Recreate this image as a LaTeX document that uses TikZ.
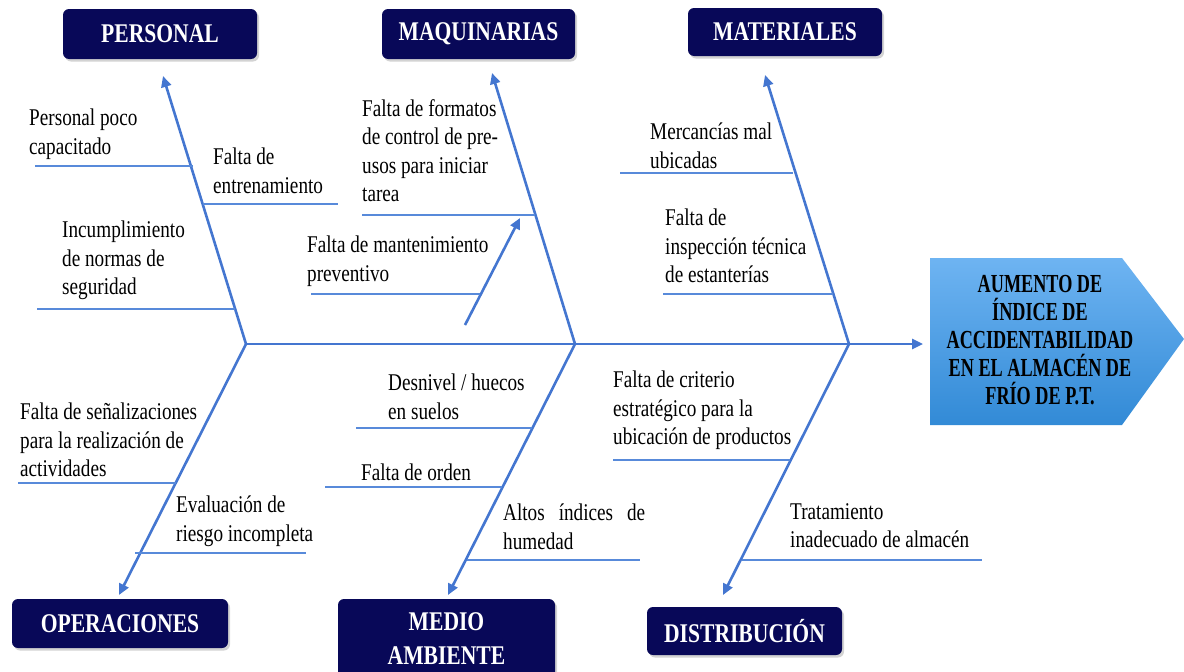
\documentclass[tikz,border=0pt]{standalone}
\usepackage{fontspec}
\setmainfont{Liberation Serif}[FakeStretch=0.8]
\newfontfamily\efffont{Liberation Serif}[FakeStretch=0.7]
\usetikzlibrary{arrows.meta,shadows}
\definecolor{navy}{RGB}{8,8,88}
\definecolor{bone}{RGB}{68,118,208}
\definecolor{subl}{RGB}{88,138,218}
\definecolor{efftop}{RGB}{110,180,242}
\definecolor{effbot}{RGB}{50,138,214}
\tikzset{
  hdr/.style={rounded corners=6pt, fill=navy, text=white, inner sep=0pt,
    font=\fontsize{27}{34}\selectfont\bfseries, align=center,
    drop shadow={shadow xshift=2pt, shadow yshift=-2.5pt, opacity=0.35}},
  bonel/.style={draw=bone, line width=2.6pt, -{Triangle[length=11pt,width=10pt]}},
  subline/.style={draw=subl, line width=1.3pt},
  txt/.style={anchor=north west, inner sep=0pt, align=left,
    font=\fontsize{24}{28.5}\selectfont},
}
\begin{document}
\begin{tikzpicture}[x=1pt,y=-1pt]
\useasboundingbox (0,0) rectangle (1184,672);
% header boxes
\node[hdr, minimum width=194pt, minimum height=50pt] (personal) at (160,34) {PERSONAL};
\node[hdr, minimum width=193pt, minimum height=50pt] (maq) at (478.5,34) {MAQUINARIAS};
\node[hdr, minimum width=194pt, minimum height=48pt] (mat) at (785,32) {MATERIALES};
\node[hdr, minimum width=216pt, minimum height=49pt] (oper) at (120,623.5) {OPERACIONES};
\node[hdr, minimum width=217pt, minimum height=80pt] (medio) at (446.5,639) {MEDIO\\AMBIENTE};
\node[hdr, minimum width=195pt, minimum height=48pt] (dist) at (744.5,631) {DISTRIBUCIÓN};
% effect
\path[top color=efftop, bottom color=effbot, draw=none]
  (930,258) -- (1122,258) -- (1184,339) -- (1122,425) -- (930,425) -- cycle;
\node[inner sep=0pt, align=center, font=\efffont\fontsize{26}{28}\selectfont\bfseries] (effect) at (1040,340)
  {AUMENTO DE\\ÍNDICE DE\\ACCIDENTABILIDAD\\EN EL ALMACÉN DE\\FRÍO DE P.T.};
% skeleton coordinates
\coordinate (J1) at (246,344);
\coordinate (J2) at (575,344);
\coordinate (J3) at (849,344);
\coordinate (E) at (923,344);
\coordinate (T1) at (163,76);
\coordinate (T2) at (492,73);
\coordinate (T3) at (765,75);
\coordinate (B1) at (119,595);
\coordinate (B2) at (448,595);
\coordinate (B3) at (723,595);
\coordinate (S0) at (465,325);
\coordinate (S1) at (520,218);
% spine and bones
\draw[bonel] (J1) -- (E);
\draw[bonel] (J1) -- (T1);
\draw[bonel] (J2) -- (T2);
\draw[bonel] (J3) -- (T3);
\draw[bonel] (J1) -- (B1);
\draw[bonel] (J2) -- (B2);
\draw[bonel] (J3) -- (B3);
\draw[bonel] (S0) -- (S1);
% sub lines
\draw[subline] (35,166) -- (193,166);
\draw[subline] (203,204) -- (338,204);
\draw[subline] (37,309) -- (235,309);
\draw[subline] (362,215) -- (535,215);
\draw[subline] (311,294) -- (480,294);
\draw[subline] (620,173) -- (793,173);
\draw[subline] (663,294) -- (833,294);
\draw[subline] (18,483) -- (176,483);
\draw[subline] (135,553) -- (306,553);
\draw[subline] (356,428) -- (532,428);
\draw[subline] (325,487) -- (502,487);
\draw[subline] (467,560) -- (640,560);
\draw[subline] (613,460) -- (790,460);
\draw[subline] (742,560) -- (982,560);
% texts
\node[txt] (p1) at (29,109) {Personal poco\\capacitado};
\node[txt] (p2) at (213,148) {Falta de\\entrenamiento};
\node[txt] (p3) at (62,221) {Incumplimiento\\de normas de\\seguridad};
\node[txt] (m1) at (362,99) {Falta de formatos\\de control de pre-\\usos para iniciar\\tarea};
\node[txt] (m2) at (307,236) {Falta de mantenimiento\\preventivo};
\node[txt] (t1) at (650,123) {Mercancías mal\\ubicadas};
\node[txt] (t2) at (665,209) {Falta de\\inspección técnica\\de estanterías};
\node[txt] (o1) at (20,403) {Falta de señalizaciones\\para la realización de\\actividades};
\node[txt] (o2) at (176,496) {Evaluación de\\riesgo incompleta};
\node[txt] (e1) at (388,374) {Desnivel / huecos\\en suelos};
\node[txt] (e2) at (361,464) {Falta de orden};
\node[txt] (e3) at (503,504) {\hbox to 142pt{Altos\hfill índices\hfill de}\\humedad};
\node[txt] (d1) at (613,371) {Falta de criterio\\estratégico para la\\ubicación de productos};
\node[txt] (d2) at (790,503) {Tratamiento\\inadecuado de almacén};
\end{tikzpicture}
\end{document}
